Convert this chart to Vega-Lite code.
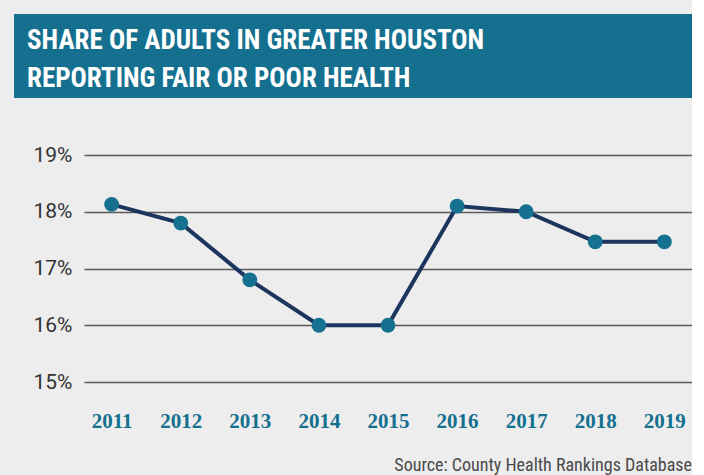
{
  "$schema": "https://vega.github.io/schema/vega-lite/v6.json",
  "background": "#ededed",
  "padding": {"left": 14, "top": 14, "right": 0, "bottom": 0},
  "spacing": 46,
  "config": {"view": {"stroke": null}},
  "vconcat": [
    {
      "width": 678,
      "height": 84,
      "view": {"fill": "#15708f", "stroke": null},
      "data": {"values": [
        {"line": 1, "text": "SHARE OF ADULTS IN GREATER HOUSTON"},
        {"line": 2, "text": "REPORTING FAIR OR POOR HEALTH"}
      ]},
      "mark": {"type": "text", "align": "left", "baseline": "middle", "dx": 13, "dy": 4, "font": "Liberation Sans Narrow, Roboto Condensed, Arial Narrow, sans-serif", "fontWeight": "bold", "fontSize": 27, "color": "#ffffff"},
      "encoding": {
        "x": {"datum": 0, "type": "quantitative", "scale": {"domain": [0, 1]}, "axis": null},
        "y": {"field": "line", "type": "ordinal", "scale": {"type": "point", "padding": 0.62}, "axis": null},
        "text": {"field": "text"}
      }
    },
    {
      "spacing": 0,
      "hconcat": [
        {
          "width": 70,
          "height": 227,
          "data": {"values": [{"v": 15}, {"v": 16}, {"v": 17}, {"v": 18}, {"v": 19}]},
          "mark": {"type": "point", "opacity": 0},
          "encoding": {
            "y": {"field": "v", "type": "quantitative", "scale": {"domain": [15, 19], "zero": false},
              "axis": {"orient": "right", "title": null, "values": [15, 16, 17, 18, 19], "labelExpr": "datum.value + '%'", "domain": false, "ticks": false, "grid": false, "labelAlign": "right", "labelFont": "Roboto", "labelFontSize": 21, "labelColor": "#333333", "labelPadding": -12, "minExtent": 0, "maxExtent": 0}}
          }
        },
        {
          "width": 608,
          "height": 227,
          "title": {"text": "Source: County Health Rankings Database", "orient": "bottom", "anchor": "end", "font": "Liberation Sans Narrow, Roboto Condensed, Arial Narrow, sans-serif", "fontSize": 18, "fontWeight": "normal", "color": "#4a4a4a", "offset": 26},
          "data": {"values": [
            {"year": "2011", "share": 18.13},
            {"year": "2012", "share": 17.8},
            {"year": "2013", "share": 16.8},
            {"year": "2014", "share": 16.0},
            {"year": "2015", "share": 16.0},
            {"year": "2016", "share": 18.1},
            {"year": "2017", "share": 18.0},
            {"year": "2018", "share": 17.47},
            {"year": "2019", "share": 17.47}
          ]},
          "encoding": {
            "x": {"field": "year", "type": "ordinal", "scale": {"type": "point", "padding": 0.4},
              "axis": {"title": null, "domain": false, "ticks": false, "grid": false, "labelAngle": 0, "labelFont": "Liberation Serif", "labelFontWeight": "bold", "labelFontSize": 21, "labelColor": "#15708f", "labelPadding": 28}},
            "y": {"field": "share", "type": "quantitative", "scale": {"domain": [15, 19], "zero": false},
              "axis": {"title": null, "values": [15, 16, 17, 18, 19], "labels": false, "domain": false, "ticks": false, "grid": true, "gridColor": "#5a5a5a", "gridWidth": 1.3, "minExtent": 0, "maxExtent": 0}}
          },
          "layer": [
            {"mark": {"type": "line", "color": "#1c355e", "strokeWidth": 4}},
            {"mark": {"type": "point", "filled": true, "opacity": 1, "color": "#15718f", "size": 220}}
          ]
        }
      ]
    }
  ]
}
